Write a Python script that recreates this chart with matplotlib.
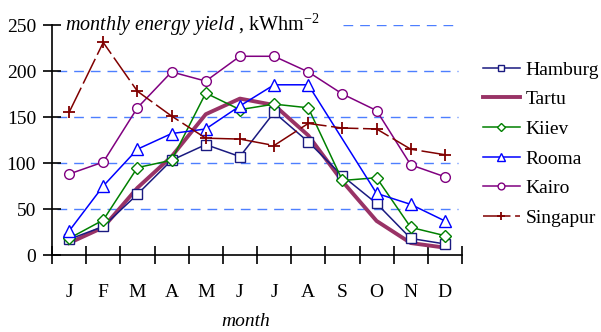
import matplotlib.pyplot as plt
import numpy as np

plt.rcParams["font.family"] = ["Liberation Serif", "DejaVu Serif"]
plt.rcParams["mathtext.fontset"] = "custom"
plt.rcParams["mathtext.rm"] = "Liberation Serif"
plt.rcParams["mathtext.it"] = "Liberation Serif:italic"

months = ["J", "F", "M", "A", "M", "J", "J", "A", "S", "O", "N", "D"]

hamburg = [17, 31, 66, 103, 120, 107, 155, 123, 86, 56, 18, 12]
tartu = [13, 30, 73, 107, 153, 170, 163, 130, 80, 37, 13, 8]
kiiev = [18, 38, 95, 103, 176, 158, 164, 160, 81, 84, 30, 21]
# no September value for Rooma, the line bridges the gap
rooma = [26, 75, 115, 132, 137, 162, 185, 185, None, 67, 55, 37]
kairo = [88, 101, 160, 199, 189, 216, 216, 199, 175, 157, 98, 85]
singapur = [155, 231, 178, 151, 127, 126, 119, 143, 138, 137, 115, 109]

series = [
    ("Hamburg", hamburg, dict(color="#1a1a80", marker="s", ms=7, lw=1.1)),
    ("Tartu", tartu, dict(color="#993366", lw=2.8, zorder=1.8)),
    ("Kiiev", kiiev, dict(color="#008000", marker="D", ms=6, lw=1.1)),
    ("Rooma", rooma, dict(color="#0000ff", marker="^", ms=8, lw=1.1)),
    ("Kairo", kairo, dict(color="#800080", marker="o", ms=7, lw=1.1)),
    ("Singapur", singapur,
     dict(color="#800000", marker="+", ms=9, mew=1.3, lw=1.1, dashes=(18, 3))),
]

fig = plt.figure(figsize=(6.01, 3.32), dpi=100)
ax = fig.add_axes([52 / 601, 1 - 255 / 332, 410 / 601, 230 / 332])

x = np.arange(len(months))
for name, vals, style in series:
    xs = [i for i, v in zip(x, vals) if v is not None]
    ys = [v for v in vals if v is not None]
    style.setdefault("zorder", 3)
    ax.plot(xs, ys, label=name, mfc="white", **style)

# the top grid line sits behind the title, so it only starts after the text
for y in [50, 100, 150, 200, 250]:
    xmin = 0.71 if y == 250 else 0.012
    ax.axhline(y, xmin=xmin, xmax=0.99, color="#4d7fff", lw=1,
               dashes=(7, 5), zorder=1)

ax.set_xlim(-0.5, 11.5)
ax.set_ylim(0, 250)
ax.set_yticks([0, 50, 100, 150, 200, 250])
ax.set_xticks(np.arange(-0.5, 12, 1))
ax.set_xticklabels([])
ax.set_xticks(x, minor=True)
ax.set_xticklabels(months, minor=True)
ax.tick_params(axis="both", which="major", direction="inout", length=13,
               width=1.2, labelsize=14)
ax.tick_params(axis="y", pad=5)
ax.tick_params(axis="x", which="minor", length=0, pad=21, labelsize=14)
for side in ["top", "right"]:
    ax.spines[side].set_visible(False)
for side in ["left", "bottom"]:
    ax.spines[side].set_linewidth(1.2)

ax.text(65 / 601, 1 - 25 / 332,
        r"$\mathit{monthly\ energy\ yield}$ , kWhm$^{-2}$",
        transform=fig.transFigure, fontsize=14.5, va="center", ha="left")

fig.text(246 / 601, 1 - 322 / 332, "month", style="italic", fontsize=14,
         ha="center", va="center")

ax.legend(loc="upper left", bbox_to_anchor=(483 / 601, 1 - 61 / 332),
          bbox_transform=fig.transFigure, frameon=False, fontsize=14,
          labelspacing=0.62, handlelength=1.9, handletextpad=0.3,
          markerscale=0.7, borderaxespad=0, borderpad=0)

fig.savefig("out.png", dpi=100)
